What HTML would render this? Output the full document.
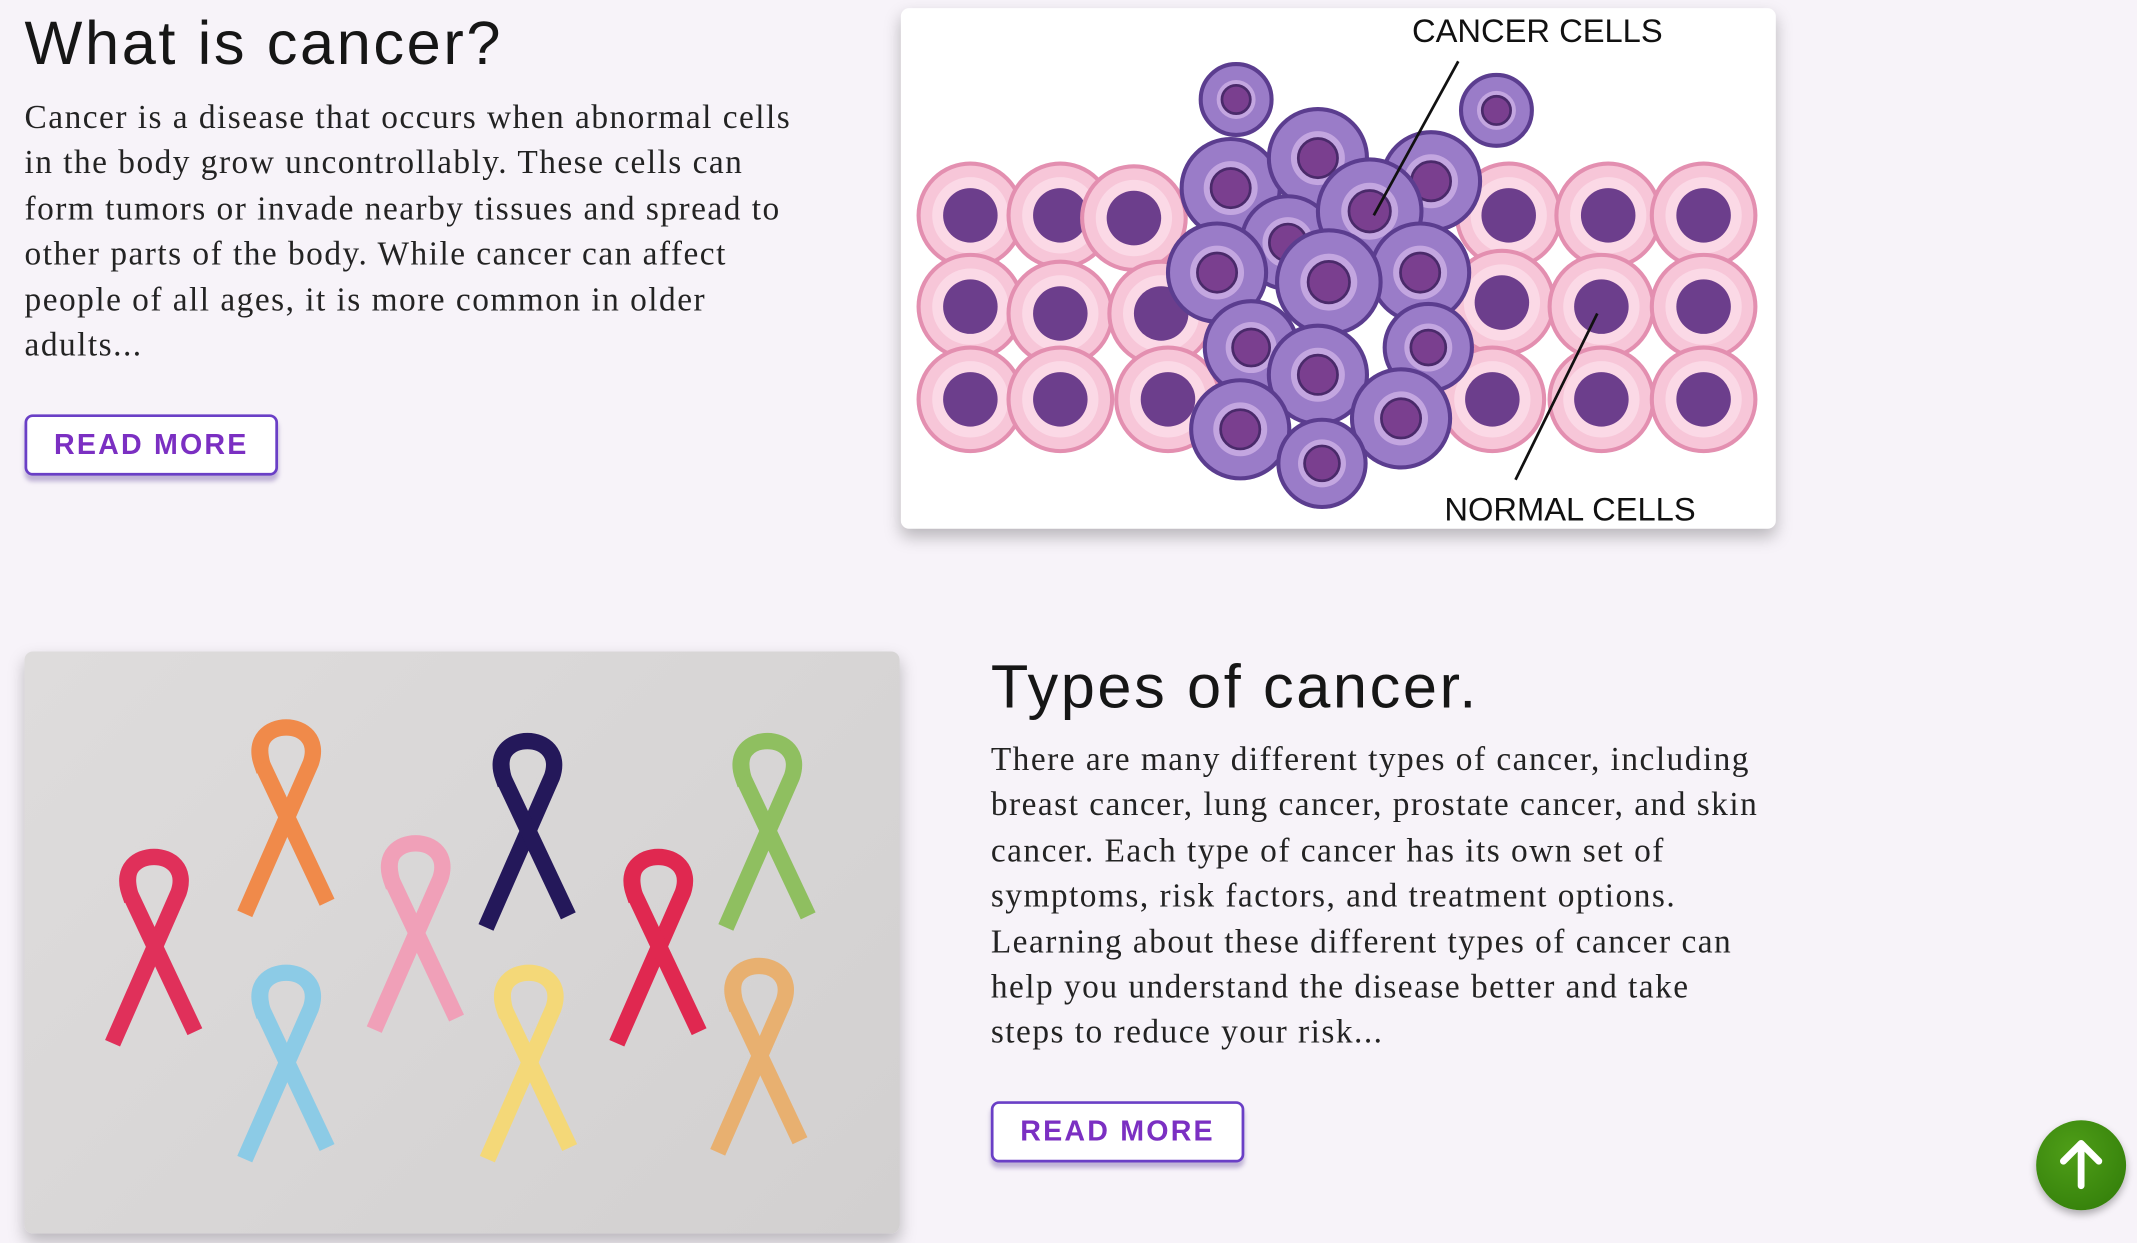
<!DOCTYPE html>
<html><head><meta charset="utf-8">
<style>
html,body{margin:0;padding:0;background:#f7f3f9;overflow:hidden;width:2137px;height:1243px}
#wrap{position:absolute;left:0;top:0;width:1568px;height:912px;transform:scale(1.36288);transform-origin:0 0;background:#f7f3f9}
h1{position:absolute;margin:0;font-family:"Liberation Sans",sans-serif;font-weight:400;font-size:45px;color:#161616;letter-spacing:1.9px}
p{position:absolute;margin:0;font-family:"Liberation Serif",serif;font-size:24.5px;line-height:33.4px;color:#232323;letter-spacing:1.08px;white-space:nowrap}
.btn{position:absolute;width:182px;height:41px;border:2px solid #6a3fc6;border-radius:6px;background:#fff;box-shadow:0 4px 3px rgba(90,60,150,.35);font-family:"Liberation Sans",sans-serif;font-weight:700;font-size:21px;color:#7b2fc2;text-align:center;line-height:41px;letter-spacing:1.6px}
.card{position:absolute;border-radius:6px;overflow:hidden;box-shadow:0 6px 12px rgba(0,0,0,.25)}
</style></head><body>
<div id="wrap">
<h1 style="left:18px;top:6px">What is cancer?</h1>
<p style="left:18px;top:70px;width:620px">Cancer is a disease that occurs when abnormal cells<br>in the body grow uncontrollably. These cells can<br>form tumors or invade nearby tissues and spread to<br>other parts of the body. While cancer can affect<br>people of all ages, it is more common in older<br>adults...</p>
<div class="btn" style="left:18px;top:304px">READ MORE</div>

<div class="card" style="left:661px;top:6px;width:642px;height:382px;background:#fff">
<svg width="642" height="382" id="cells"></svg>
</div>

<div class="card" style="left:18px;top:478px;width:642px;height:427px;background:linear-gradient(135deg,#dedcdc,#d2d0d0)">
<svg width="642" height="427" id="ribbons"></svg>
</div>

<h1 style="left:727px;top:478px">Types of cancer.</h1>
<p style="left:727px;top:541px;width:640px">There are many different types of cancer, including<br>breast cancer, lung cancer, prostate cancer, and skin<br>cancer. Each type of cancer has its own set of<br>symptoms, risk factors, and treatment options.<br>Learning about these different types of cancer can<br>help you understand the disease better and take<br>steps to reduce your risk...</p>
<div class="btn" style="left:727px;top:808px">READ MORE</div>

<div style="position:absolute;left:1494px;top:822px;width:66px;height:66px;border-radius:50%;background:radial-gradient(circle at 40% 35%,#4f9e18,#2f7a08);box-shadow:0 3px 6px rgba(0,0,0,.3)">
<svg width="66" height="66"><path d="M33 48 V18 M20 30 L33 17 L46 30" stroke="#fff" stroke-width="5" fill="none" stroke-linecap="round" stroke-linejoin="round"/></svg>
</div>
</div>
<script>
var NS="http://www.w3.org/2000/svg";
function mk(p,t,a){var e=document.createElementNS(NS,t);for(var k in a)e.setAttribute(k,a[k]);p.appendChild(e);return e;}
var c=document.getElementById('cells');
var ox=661,oy=6;
var pink=[[712,158],[778,158],[832,160],[1107,158],[1180,158],[1250,158],[712,225],[778,230],[852,230],[1102,222],[1175,225],[1250,225],[712,293],[778,293],[857,293],[1095,293],[1175,293],[1250,293]];
pink.forEach(function(q){mk(c,'circle',{cx:q[0]-ox,cy:q[1]-oy,r:38,fill:'#f7c6d8',stroke:'#e38fb0','stroke-width':3});mk(c,'circle',{cx:q[0]-ox,cy:q[1]-oy,r:28,fill:'#fbd9e6'});mk(c,'circle',{cx:q[0]-ox,cy:q[1]-oy,r:20,fill:'#6c3e8c'});});
var purp=[[907,73,26],[1098,81,26],[903,138,36],[967,116,36],[1050,133,36],[945,178,34],[1005,155,38],[893,200,36],[1042,200,36],[975,207,38],[918,255,34],[1048,255,32],[967,275,36],[910,315,36],[1028,307,36],[970,340,32]];
purp.forEach(function(q){mk(c,'circle',{cx:q[0]-ox,cy:q[1]-oy,r:q[2],fill:'#9a7cc8',stroke:'#5b3d8f','stroke-width':3});mk(c,'circle',{cx:q[0]-ox,cy:q[1]-oy,r:q[2]*0.55,fill:'#c3a6e0'});mk(c,'circle',{cx:q[0]-ox,cy:q[1]-oy,r:q[2]*0.4,fill:'#7a3f8f',stroke:'#4a2a6a','stroke-width':2});});
mk(c,'line',{x1:1070-ox,y1:45-oy,x2:1008-ox,y2:158-oy,stroke:'#111','stroke-width':2});
mk(c,'line',{x1:1112-ox,y1:352-oy,x2:1172-ox,y2:230-oy,stroke:'#111','stroke-width':2});
var t1=mk(c,'text',{x:1128-ox,y:31-oy,'text-anchor':'middle','font-family':'Liberation Sans,sans-serif','font-size':24,fill:'#111'});t1.textContent='CANCER CELLS';
var t2=mk(c,'text',{x:1152-ox,y:382-oy,'text-anchor':'middle','font-family':'Liberation Sans,sans-serif','font-size':24,fill:'#111'});t2.textContent='NORMAL CELLS';
var r=document.getElementById('ribbons');
var rb=[[210,600,'#f08a4a'],[387,610,'#24185a'],[563,610,'#8fbf60'],[113,695,'#e0305a'],[305,685,'#f0a0b8'],[483,695,'#e02850'],[210,780,'#8ccbe6'],[388,780,'#f4d878'],[557,775,'#e8b070']];
rb.forEach(function(q){var x=q[0]-18,y=q[1]-478,col=q[2];
mk(r,'path',{d:'M'+(x-18)+' '+(y-40)+' C'+(x-30)+' '+(y-75)+' '+(x+30)+' '+(y-75)+' '+(x+18)+' '+(y-40)+' L'+(x-28)+' '+(y+65),stroke:col,'stroke-width':12,fill:'none','stroke-linecap':'square'});
mk(r,'path',{d:'M'+(x-18)+' '+(y-40)+' L'+(x+30)+' '+(y+62),stroke:col,'stroke-width':12,fill:'none'});});
</script>
</body></html>
